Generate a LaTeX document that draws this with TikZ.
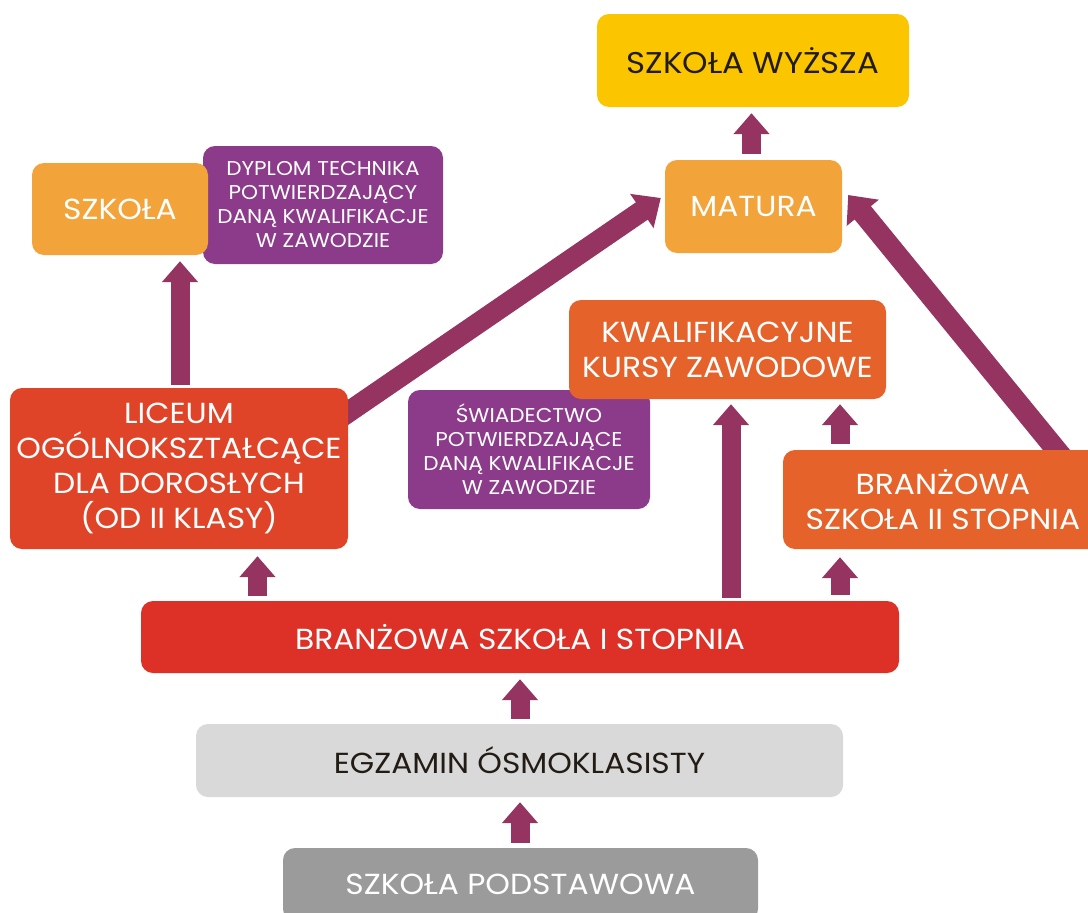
\documentclass[tikz,border=0pt]{standalone}
\usepackage{fontspec}
\setmainfont{Poppins}[FakeStretch=1.08]
\usetikzlibrary{arrows.meta,backgrounds,calc}
\definecolor{wyzc}{HTML}{FBC600}
\definecolor{matc}{HTML}{F2A43B}
\definecolor{purc}{HTML}{8B3B8A}
\definecolor{licc}{HTML}{E04428}
\definecolor{kwac}{HTML}{E5622A}
\definecolor{bsic}{HTML}{DD3127}
\definecolor{egzc}{HTML}{D9D9D9}
\definecolor{podc}{HTML}{9B9B9B}
\definecolor{arrc}{HTML}{953461}
\definecolor{darktxt}{HTML}{231C14}
\begin{document}
\begin{tikzpicture}[x=1pt,y=-1pt,
  box/.style={rounded corners=12pt, inner sep=0pt, align=center, text=white,
    font=\fontsize{29}{35}\selectfont},
  infobox/.style={box, fill=purc, font=\fontsize{20}{24}\selectfont},
  blk/.style={draw=arrc, line width=19pt, -{Triangle[width=35pt,length=21pt]}},
  diag/.style={draw=arrc, line width=21pt, -{Triangle[width=40pt,length=23pt]}}]
\useasboundingbox (0,0) rectangle (1088,913);
\clip (0,0) rectangle (1088,913);
% boxes
\node[box, fill=wyzc, text=darktxt, minimum width=312pt, minimum height=93pt,
  font=\fontsize{30}{36}\selectfont] (wyz) at (753,60.5) {SZKOŁA WYŻSZA};
\node[box, fill=matc, minimum width=177pt, minimum height=93pt] (mat) at (753.5,206.5) {MATURA};
\node[infobox, minimum width=240pt, minimum height=118pt] (dyp) at (323,205)
  {DYPLOM TECHNIKA\\POTWIERDZAJĄCY\\DANĄ KWALIFIKACJE\\W ZAWODZIE};
\node[box, fill=matc, minimum width=176pt, minimum height=92pt] (szk) at (120,209) {SZKOŁA};
\node[box, fill=licc, minimum width=338pt, minimum height=161pt] (lic) at (179,468.5)
  {LICEUM\\OGÓLNOKSZTAŁCĄCE\\DLA DOROSŁYCH\\(OD II KLASY)};
\node[infobox, minimum width=242pt, minimum height=119pt] (swi) at (529,449.5)
  {ŚWIADECTWO\\POTWIERDZAJĄCE\\DANĄ KWALIFIKACJE\\W ZAWODZIE};
\node[box, fill=kwac, minimum width=317pt, minimum height=99pt] (kwa) at (727.5,349.5)
  {KWALIFIKACYJNE\\KURSY ZAWODOWE};
\node[box, fill=kwac, minimum width=320pt, minimum height=99pt] (bs2) at (943,499.5)
  {BRANŻOWA\\SZKOŁA II STOPNIA};
\node[box, fill=bsic, minimum width=758pt, minimum height=72pt] (bs1) at (520,637)
  {BRANŻOWA SZKOŁA I STOPNIA};
\node[box, fill=egzc, text=darktxt, minimum width=647pt, minimum height=73pt] (egz) at (519.5,760.5)
  {EGZAMIN ÓSMOKLASISTY};
\node[box, fill=podc, minimum width=475pt, minimum height=73pt] (pod) at (520.5,884.5)
  {SZKOŁA PODSTAWOWA};
% x positions of vertical connectors
\coordinate (xW) at (751.5,0);
\coordinate (xS) at (180,0);
\coordinate (xL) at (257.5,0);
\coordinate (xM) at (731,0);
\coordinate (xR) at (840,0);
\coordinate (xC) at (520,0);
\coordinate (dlS) at ($(lic.north east)+(-14,34)$);
\coordinate (dlE) at ($(mat.west)+(-4,-8.5)$);
\coordinate (drS) at ($(bs2.north west)+(280,8)$);
\coordinate (drE) at ($(mat.east)+(6,-11.5)$);
\begin{scope}[on background layer]
\fill[white] (0,0) rectangle (1088,913);
\draw[blk, shorten <=6pt, shorten >=6pt] (mat.north -| xW) -- (wyz.south -| xW);
\draw[blk, shorten <=3pt, shorten >=6pt] (lic.north -| xS) -- (szk.south -| xS);
\draw[blk, shorten <=5pt, shorten >=7pt] (bs1.north -| xL) -- (lic.south -| xL);
\draw[blk, shorten <=3pt, shorten >=5pt] (bs1.north -| xM) -- (kwa.south -| xM);
\draw[blk, shorten <=6pt, shorten >=5pt] (bs2.north -| xR) -- (kwa.south -| xR);
\draw[blk, shorten <=6pt, shorten >=8pt] (bs1.north -| xR) -- (bs2.south -| xR);
\draw[blk, shorten <=5pt, shorten >=6pt] (egz.north -| xC) -- (bs1.south -| xC);
\draw[blk, shorten <=5pt, shorten >=5pt] (pod.north -| xC) -- (egz.south -| xC);
\draw[diag] (dlS) -- (dlE);
\draw[diag] (drS) -- (drE);
\end{scope}
\end{tikzpicture}
\end{document}
